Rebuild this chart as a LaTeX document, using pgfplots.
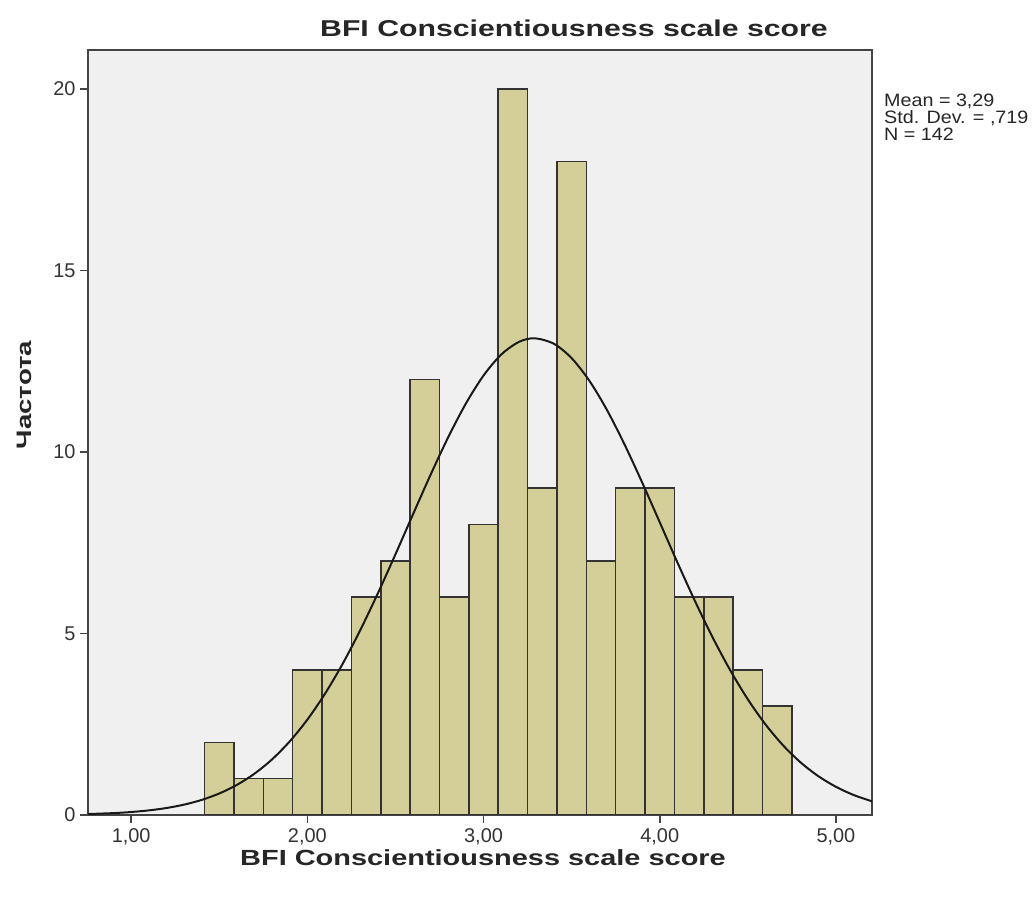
\documentclass[border=0pt]{standalone}
\usepackage{fontspec}
\setmainfont{Liberation Sans}
\newfontfamily\widefont{Liberation Sans}[FakeStretch=1.32]
\newfontfamily\annfont{Liberation Sans}[FakeStretch=1.1]
\usepackage{pgfplots}
\pgfplotsset{compat=1.18}
\definecolor{barfill}{HTML}{D4CF98}
\definecolor{plotbg}{HTML}{F0F0F0}
\definecolor{framecol}{HTML}{444444}
\begin{document}
\begin{tikzpicture}[x=1bp,y=1bp]
\path (0,0) rectangle (1035,899);
\begin{axis}[
  at={(88bp,84bp)}, anchor=south west,
  scale only axis, width=784bp, height=765bp,
  xmin=0.755, xmax=5.205, ymin=0, ymax=21.07,
  axis background/.style={fill=plotbg},
  axis line style={framecol, line width=1.6pt},
  xtick={1,2,3,4,5}, xticklabels={{1,00},{2,00},{3,00},{4,00},{5,00}},
  ytick={0,5,10,15,20}, yticklabels={0,5,10,15,20},
  xtick pos=bottom, ytick pos=left,
  tick align=outside, major tick length=8bp,
  tick style={framecol, line width=1.6pt},
  ticklabel style={font=\fontsize{20}{20}\selectfont, text=black!80},
  xticklabel style={yshift=-2bp},
  yticklabel style={xshift=-1bp},
  clip=true,
]
\addplot[ybar interval, fill=barfill, draw=black!80, line width=1.5pt] coordinates {
(1.41667,2) (1.58333,1) (1.75,1) (1.91667,4) (2.08333,4) (2.25,6) (2.41667,7)
(2.58333,12) (2.75,6) (2.91667,8) (3.08333,20) (3.25,9) (3.41667,18) (3.58333,7)
(3.75,9) (3.91667,9) (4.08333,6) (4.25,6) (4.41667,4) (4.58333,3) (4.75,3)
};
\addplot[black!90, line width=2pt, smooth] coordinates {
(0.75,0.026) (0.9,0.052) (1.0,0.082) (1.1,0.127) (1.2,0.192) (1.3,0.285) (1.4,0.415)
(1.5,0.592) (1.6,0.829) (1.7,1.138) (1.8,1.533) (1.9,2.027) (2.0,2.626) (2.1,3.338)
(2.2,4.161) (2.3,5.088) (2.4,6.103) (2.5,7.179) (2.6,8.285) (2.7,9.377) (2.8,10.409)
(2.9,11.334) (3.0,12.104) (3.1,12.679) (3.2,13.028) (3.29,13.130) (3.4,12.977)
(3.5,12.582) (3.6,11.965) (3.7,11.160) (3.8,10.209) (3.9,9.162) (4.0,8.064)
(4.1,6.961) (4.2,5.894) (4.3,4.895) (4.4,3.988) (4.5,3.186) (4.6,2.497) (4.7,1.919)
(4.8,1.447) (4.9,1.070) (5.0,0.777) (5.1,0.552) (5.2,0.385) (5.21,0.372)
};
\end{axis}
\node[font=\widefont\bfseries\fontsize{23}{23}\selectfont, text=black!85] at (574,871) {BFI Conscientiousness scale score};
\node[font=\widefont\bfseries\fontsize{22}{22}\selectfont, text=black!85] at (483,41) {BFI Conscientiousness scale score};
\node[font=\widefont\bfseries\fontsize{21}{21}\selectfont, text=black!85, rotate=90] at (24,504) {Частота};
\node[font=\annfont\fontsize{18}{17}\selectfont, text=black!85, anchor=north west, align=left, inner sep=0pt] at (884,805) {Mean = 3,29\\Std. Dev. = ,719\\N = 142};
\end{tikzpicture}
\end{document}
